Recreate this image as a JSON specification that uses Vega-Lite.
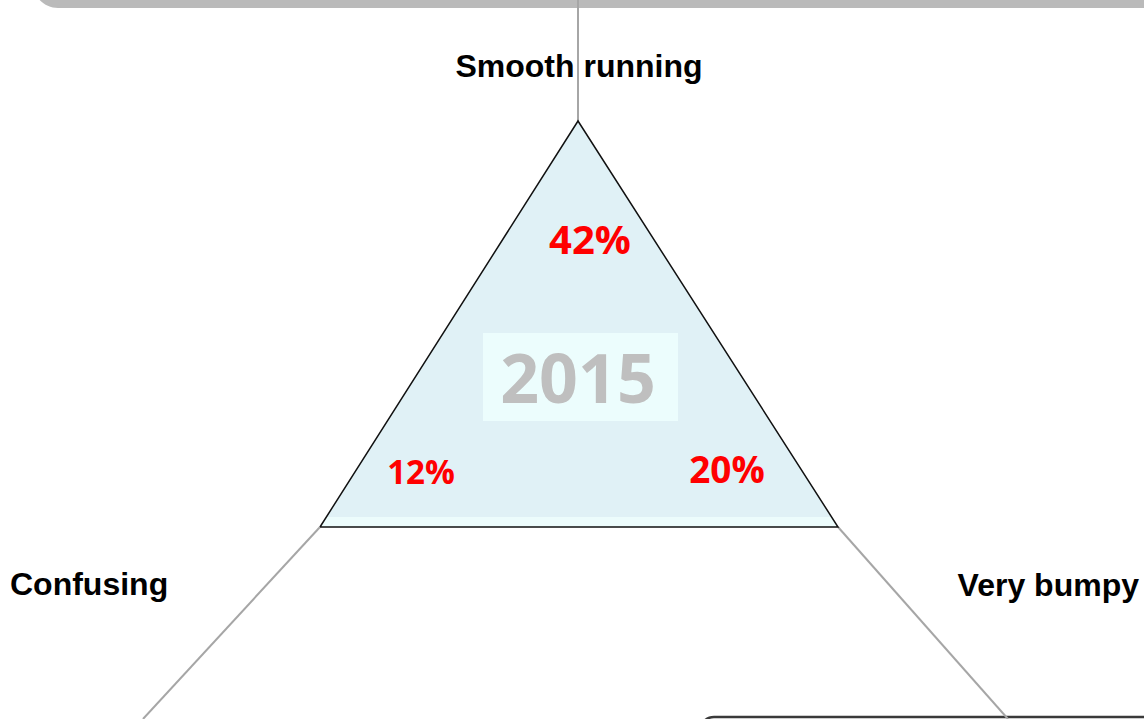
{
  "$schema": "https://vega.github.io/schema/vega-lite/v6.json",
  "width": 1144,
  "height": 719,
  "padding": 0,
  "autosize": {"type": "fit", "contains": "padding"},
  "background": "white",
  "config": {"view": {"stroke": null}, "axis": {"disable": true}},
  "resolve": {"scale": {"x": "shared", "y": "shared"}},
  "layer": [
    {
      "data": {"values": [{"x0": 33, "x1": 1250, "y0": -60, "y1": 8}]},
      "mark": {"type": "rect", "fill": "#bababa", "cornerRadius": 25, "clip": true},
      "encoding": {
        "x": {"field": "x0", "type": "quantitative", "scale": {"domain": [0, 1144], "nice": false, "zero": false}, "axis": null},
        "x2": {"field": "x1"},
        "y": {"field": "y0", "type": "quantitative", "scale": {"domain": [0, 719], "nice": false, "zero": false, "reverse": true}, "axis": null},
        "y2": {"field": "y1"}
      }
    },
    {
      "data": {"values": [{"x0": 700, "x1": 1250, "y0": 717, "y1": 800}]},
      "mark": {"type": "rect", "fill": "white", "stroke": "#3a3a3a", "strokeWidth": 2.5, "cornerRadius": 14, "clip": true},
      "encoding": {
        "x": {"field": "x0", "type": "quantitative"},
        "x2": {"field": "x1"},
        "y": {"field": "y0", "type": "quantitative"},
        "y2": {"field": "y1"}
      }
    },
    {
      "data": {"values": [
        {"x": 578, "y": 0, "x2": 578, "y2": 121},
        {"x": 320, "y": 527, "x2": 143, "y2": 719},
        {"x": 838, "y": 527, "x2": 1008, "y2": 719}
      ]},
      "mark": {"type": "rule", "color": "#a6a6a6", "strokeWidth": 2, "clip": true},
      "encoding": {
        "x": {"field": "x", "type": "quantitative"},
        "y": {"field": "y", "type": "quantitative"},
        "x2": {"field": "x2"},
        "y2": {"field": "y2"}
      }
    },
    {
      "data": {"values": [
        {"x": 320, "y": 527, "yb": 527},
        {"x": 578, "y": 121, "yb": 527},
        {"x": 838, "y": 527, "yb": 527}
      ]},
      "mark": {"type": "area", "color": "#e0f1f6", "opacity": 1},
      "encoding": {
        "x": {"field": "x", "type": "quantitative"},
        "y": {"field": "y", "type": "quantitative"},
        "y2": {"field": "yb"}
      }
    },
    {
      "data": {"values": [
        {"x": 320, "y": 527, "yb": 527},
        {"x": 326.4, "y": 517, "yb": 527},
        {"x": 831.6, "y": 517, "yb": 527},
        {"x": 838, "y": 527, "yb": 527}
      ]},
      "mark": {"type": "area", "color": "#ecfcfc", "opacity": 1},
      "encoding": {
        "x": {"field": "x", "type": "quantitative"},
        "y": {"field": "y", "type": "quantitative"},
        "y2": {"field": "yb"}
      }
    },
    {
      "data": {"values": [
        {"o": 1, "x": 320, "y": 527},
        {"o": 2, "x": 578, "y": 121},
        {"o": 3, "x": 838, "y": 527},
        {"o": 4, "x": 320, "y": 527}
      ]},
      "mark": {"type": "line", "color": "#111111", "strokeWidth": 1.5},
      "encoding": {
        "x": {"field": "x", "type": "quantitative"},
        "y": {"field": "y", "type": "quantitative"},
        "order": {"field": "o", "type": "quantitative"}
      }
    },
    {
      "data": {"values": [{"x0": 483, "x1": 678, "y0": 333, "y1": 421}]},
      "mark": {"type": "rect", "fill": "#ecfdfd"},
      "encoding": {
        "x": {"field": "x0", "type": "quantitative"},
        "x2": {"field": "x1"},
        "y": {"field": "y0", "type": "quantitative"},
        "y2": {"field": "y1"}
      }
    },
    {
      "data": {"values": [{"x": 578, "y": 403, "t": "2015"}]},
      "mark": {"type": "text", "font": "Open Sans", "fontWeight": "bold", "fontSize": 68, "color": "#bfbfbf", "align": "center", "baseline": "alphabetic"},
      "encoding": {
        "x": {"field": "x", "type": "quantitative"},
        "y": {"field": "y", "type": "quantitative"},
        "text": {"field": "t"}
      }
    },
    {
      "data": {"values": [
        {"x": 590, "y": 254, "t": "42%", "s": 42},
        {"x": 421, "y": 484, "t": "12%", "s": 33},
        {"x": 727, "y": 483, "t": "20%", "s": 38}
      ]},
      "mark": {"type": "text", "font": "Open Sans", "fontWeight": "bold", "color": "#ff0000", "align": "center", "baseline": "alphabetic"},
      "encoding": {
        "x": {"field": "x", "type": "quantitative"},
        "y": {"field": "y", "type": "quantitative"},
        "text": {"field": "t"},
        "size": {"field": "s", "type": "quantitative", "scale": {"type": "identity"}, "legend": null}
      }
    },
    {
      "data": {"values": [{"x": 579, "y": 77, "t": "Smooth running"}]},
      "mark": {"type": "text", "font": "Liberation Sans", "fontWeight": "bold", "fontSize": 32, "color": "#000000", "align": "center", "baseline": "alphabetic"},
      "encoding": {
        "x": {"field": "x", "type": "quantitative"},
        "y": {"field": "y", "type": "quantitative"},
        "text": {"field": "t"}
      }
    },
    {
      "data": {"values": [{"x": 10, "y": 595, "t": "Confusing"}]},
      "mark": {"type": "text", "font": "Liberation Sans", "fontWeight": "bold", "fontSize": 32, "color": "#000000", "align": "left", "baseline": "alphabetic"},
      "encoding": {
        "x": {"field": "x", "type": "quantitative"},
        "y": {"field": "y", "type": "quantitative"},
        "text": {"field": "t"}
      }
    },
    {
      "data": {"values": [{"x": 1139, "y": 596, "t": "Very bumpy"}]},
      "mark": {"type": "text", "font": "Liberation Sans", "fontWeight": "bold", "fontSize": 32, "color": "#000000", "align": "right", "baseline": "alphabetic"},
      "encoding": {
        "x": {"field": "x", "type": "quantitative"},
        "y": {"field": "y", "type": "quantitative"},
        "text": {"field": "t"}
      }
    }
  ]
}
